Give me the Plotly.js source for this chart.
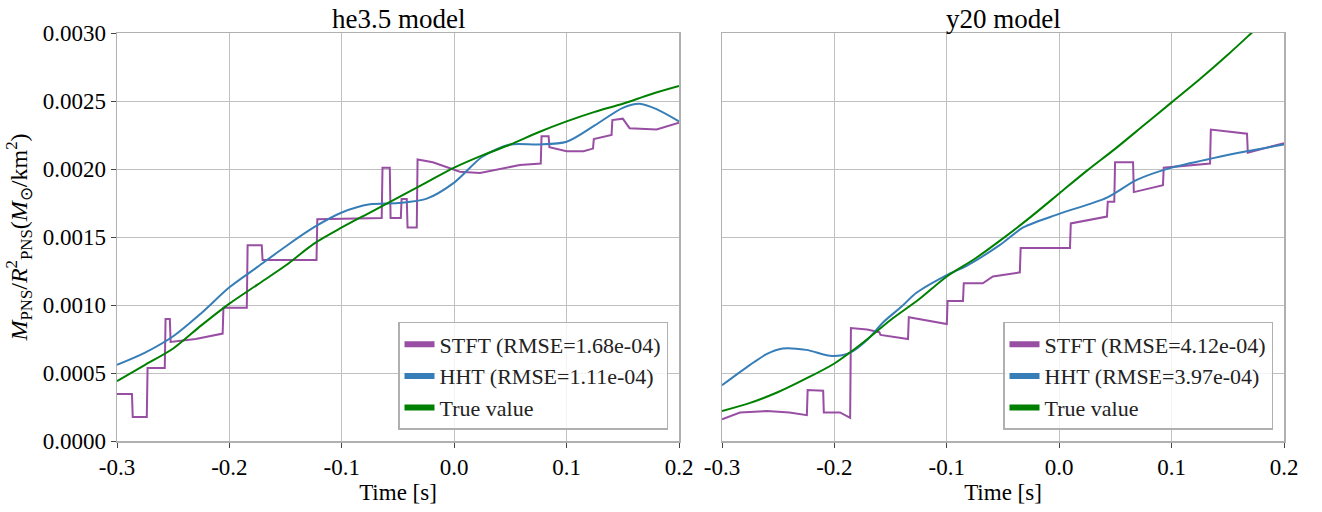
<!DOCTYPE html>
<html>
<head>
<meta charset="utf-8">
<script src="https://cdn.plot.ly/plotly-3.0.1.min.js"></script>
<style>
html,body{margin:0;padding:0;background:#fff;}
#chart{width:1322px;height:512px;}
</style>
</head>
<body>
<div id="chart"></div>
<script>
// ---- he3.5 model (left) ----
const he_true_t = [-0.3,-0.275,-0.25,-0.225,-0.2,-0.175,-0.15,-0.125,-0.1,-0.075,-0.05,-0.025,0,0.025,0.05,0.075,0.1,0.125,0.15,0.175,0.2];
const he_true_v = [0.00044,0.00056,0.00068,0.00085,0.00101,0.00115,0.00129,0.00145,0.00157,0.00168,0.00179,0.00190,0.00201,0.00210,0.00218,0.00227,0.00235,0.00242,0.00248,0.00255,0.00261];

const he_hht_t = [-0.3,-0.275,-0.25,-0.225,-0.2,-0.175,-0.15,-0.125,-0.1,-0.075,-0.05,-0.025,0,0.025,0.05,0.075,0.1,0.125,0.15,0.165,0.18,0.2];
const he_hht_v = [0.00056,0.00065,0.00077,0.00094,0.00113,0.00128,0.00143,0.00157,0.00168,0.00174,0.00175,0.00178,0.00190,0.00209,0.00218,0.00218,0.00220,0.00232,0.00245,0.00248,0.00244,0.00235];

const he_stft_t = [-0.3,-0.2867,-0.2860,-0.2735,-0.2728,-0.2575,-0.2568,-0.2530,-0.2523,-0.23,-0.2060,-0.2053,-0.1845,-0.1838,-0.1712,-0.1705,-0.1225,-0.1218,-0.0645,-0.0638,-0.0573,-0.0566,-0.0475,-0.0468,-0.0422,-0.0415,-0.0333,-0.0326,-0.019,0.005,0.023,0.041,0.0585,0.077,0.0777,0.084,0.0847,0.100,0.115,0.1235,0.1242,0.140,0.1407,0.150,0.156,0.180,0.2];
const he_stft_v = [0.000345,0.000345,0.000176,0.000176,0.000537,0.000537,0.000897,0.000897,0.000728,0.00075,0.00079,0.00098,0.00098,0.00144,0.00144,0.00133,0.00133,0.00163,0.00164,0.00201,0.00201,0.00164,0.00164,0.00178,0.00178,0.00157,0.00157,0.00207,0.00205,0.00198,0.00197,0.00200,0.00203,0.00204,0.00224,0.00224,0.00216,0.00213,0.00213,0.00215,0.00222,0.00225,0.00236,0.00237,0.00230,0.00229,0.00234];

// ---- y20 model (right) ----
const y20_true_t = [-0.3,-0.275,-0.25,-0.225,-0.2,-0.175,-0.15,-0.125,-0.1,-0.075,-0.05,-0.025,0,0.025,0.05,0.075,0.1,0.125,0.15,0.175,0.2];
const y20_true_v = [0.00022,0.00028,0.00036,0.00046,0.00057,0.00072,0.00089,0.00104,0.00121,0.00134,0.00149,0.00165,0.00182,0.00199,0.00215,0.00232,0.00249,0.00266,0.00284,0.00303,0.00322];

const y20_hht_t = [-0.3,-0.275,-0.26,-0.246,-0.225,-0.202,-0.186,-0.17,-0.157,-0.14,-0.127,-0.1,-0.082,-0.053,-0.032,0,0.0425,0.069,0.1,0.137,0.167,0.2];
const y20_hht_v = [0.00041,0.00056,0.00064,0.00068,0.00067,0.000625,0.00065,0.00075,0.00087,0.00099,0.00109,0.00122,0.00129,0.00144,0.00157,0.00167,0.00179,0.00192,0.00201,0.00208,0.00213,0.00218];

const y20_stft_t = [-0.3,-0.284,-0.26,-0.24,-0.2245,-0.2238,-0.210,-0.2094,-0.195,-0.186,-0.1853,-0.171,-0.160,-0.159,-0.1345,-0.1338,-0.1,-0.0993,-0.0856,-0.0849,-0.068,-0.059,-0.035,-0.0343,0.0096,0.0103,0.0425,0.0432,0.049,0.0497,0.0657,0.0664,0.0923,0.093,0.1342,0.1349,0.1671,0.1678,0.2];
const y20_stft_v = [0.00016,0.00021,0.00022,0.00021,0.00019,0.000375,0.00037,0.00021,0.00021,0.00017,0.00083,0.00082,0.00080,0.00078,0.00075,0.00091,0.00086,0.00103,0.00103,0.00116,0.00116,0.00121,0.00124,0.00142,0.00142,0.00160,0.00165,0.00176,0.00176,0.00205,0.00205,0.00183,0.00188,0.00201,0.00204,0.00229,0.00226,0.00212,0.00219];

const xTickVals = [-0.3,-0.2,-0.1,0.0,0.1,0.2];
const xTickText = ["-0.3","-0.2","-0.1","0.0","0.1","0.2"];
const yTickVals = [0,0.0005,0.001,0.0015,0.002,0.0025,0.003];

const he_names = ["STFT (RMSE=1.68e-04)","HHT (RMSE=1.11e-04)","True value"];
const y20_names = ["STFT (RMSE=4.12e-04)","HHT (RMSE=3.97e-04)","True value"];

const C_STFT = "#984ea3", C_HHT = "#377eb8", C_TRUE = "#008000";
const FONT = "Liberation Serif, Times New Roman, serif";

function tr(x, y, color, name, xa, ya, smooth){
  return {x:x, y:y, mode:'lines', type:'scatter', name:name, xaxis:xa, yaxis:ya, showlegend:false,
          line:{color:color, width:2, shape: smooth ? 'spline' : 'linear', smoothing:0.8}, hoverinfo:'skip'};
}
function legItem(color, name, xa, ya, leg){
  return {x:[null], y:[null], mode:'lines', type:'scatter', name:name, xaxis:xa, yaxis:ya, legend:leg,
          showlegend:true, line:{color:color, width:6}, hoverinfo:'skip'};
}
const data = [
  tr(he_stft_t, he_stft_v, C_STFT, he_names[0], 'x', 'y', false),
  tr(he_hht_t, he_hht_v, C_HHT, he_names[1], 'x', 'y', true),
  tr(he_true_t, he_true_v, C_TRUE, he_names[2], 'x', 'y', true),
  tr(y20_stft_t, y20_stft_v, C_STFT, y20_names[0], 'x2', 'y2', false),
  tr(y20_hht_t, y20_hht_v, C_HHT, y20_names[1], 'x2', 'y2', true),
  tr(y20_true_t, y20_true_v, C_TRUE, y20_names[2], 'x2', 'y2', true),
  legItem(C_STFT, he_names[0], 'x', 'y', 'legend'),
  legItem(C_HHT, he_names[1], 'x', 'y', 'legend'),
  legItem(C_TRUE, he_names[2], 'x', 'y', 'legend'),
  legItem(C_STFT, y20_names[0], 'x2', 'y2', 'legend2'),
  legItem(C_HHT, y20_names[1], 'x2', 'y2', 'legend2'),
  legItem(C_TRUE, y20_names[2], 'x2', 'y2', 'legend2')
];

const gridC = "#c0c0c0", frameC = "#b0b0b0";
function xaxis(dom, anchor){
  return {domain:dom, anchor:anchor, range:[-0.3,0.2], tickvals:xTickVals, ticktext:xTickText,
    showgrid:true, gridcolor:gridC, gridwidth:1, zeroline:false,
    showline:true, linecolor:frameC, linewidth:1.5, mirror:true,
    ticks:'outside', ticklen:5, tickcolor:'#444', tickwidth:1,
    tickfont:{family:FONT, size:23, color:'#000'},
    title:{text:'Time [s]', font:{family:FONT, size:23, color:'#000'}, standoff:4}};
}
function yaxis(anchor, labels){
  return {domain:[0,1], anchor:anchor, range:[0,0.003], tickvals:yTickVals, tickformat:'.4f',
    showgrid:true, gridcolor:gridC, gridwidth:1, zeroline:false,
    showline:true, linecolor:frameC, linewidth:1.5, mirror:true,
    ticks: labels ? 'outside' : '', ticklen:5, tickcolor:'#444', showticklabels:labels,
    tickfont:{family:FONT, size:23, color:'#000'}};
}
const legBase = {bgcolor:'rgba(255,255,255,0.8)', bordercolor:'#b0b0b0', borderwidth:1.5,
  font:{family:FONT, size:22, color:'#222'}, yanchor:'bottom', xanchor:'right', y:0.027,
  tracegroupgap:0, itemwidth:30};

const layout = {
  width:1322, height:512,
  margin:{l:117, r:38, t:33, b:71},
  paper_bgcolor:'#fff', plot_bgcolor:'#fff',
  showlegend:true,
  xaxis: xaxis([0, 562/1167], 'y'),
  yaxis: Object.assign(yaxis('x', true), {title:{
    text:'<i>M</i><sub>PNS</sub>/<i>R</i><sup>2</sup><sub>PNS</sub>(<i>M</i><sub>⊙</sub>/km<sup>2</sup>)',
    font:{family:FONT, size:24, color:'#000'}, standoff:8}}),
  xaxis2: xaxis([605/1167, 1], 'y2'),
  yaxis2: yaxis('x2', false),
  legend: Object.assign({}, legBase, {x:551/1167}),
  legend2: Object.assign({}, legBase, {x:1156/1167}),
  annotations:[
    {text:'he3.5 model', xref:'paper', yref:'paper', x:281/1167, y:1, yanchor:'bottom', xanchor:'center', yshift:-3, showarrow:false, font:{family:FONT, size:27, color:'#000'}},
    {text:'y20 model', xref:'paper', yref:'paper', x:886/1167, y:1, yanchor:'bottom', xanchor:'center', yshift:-3, showarrow:false, font:{family:FONT, size:27, color:'#000'}}
  ]
};
Plotly.newPlot('chart', data, layout, {displayModeBar:false, staticPlot:true});
</script>
</body>
</html>
